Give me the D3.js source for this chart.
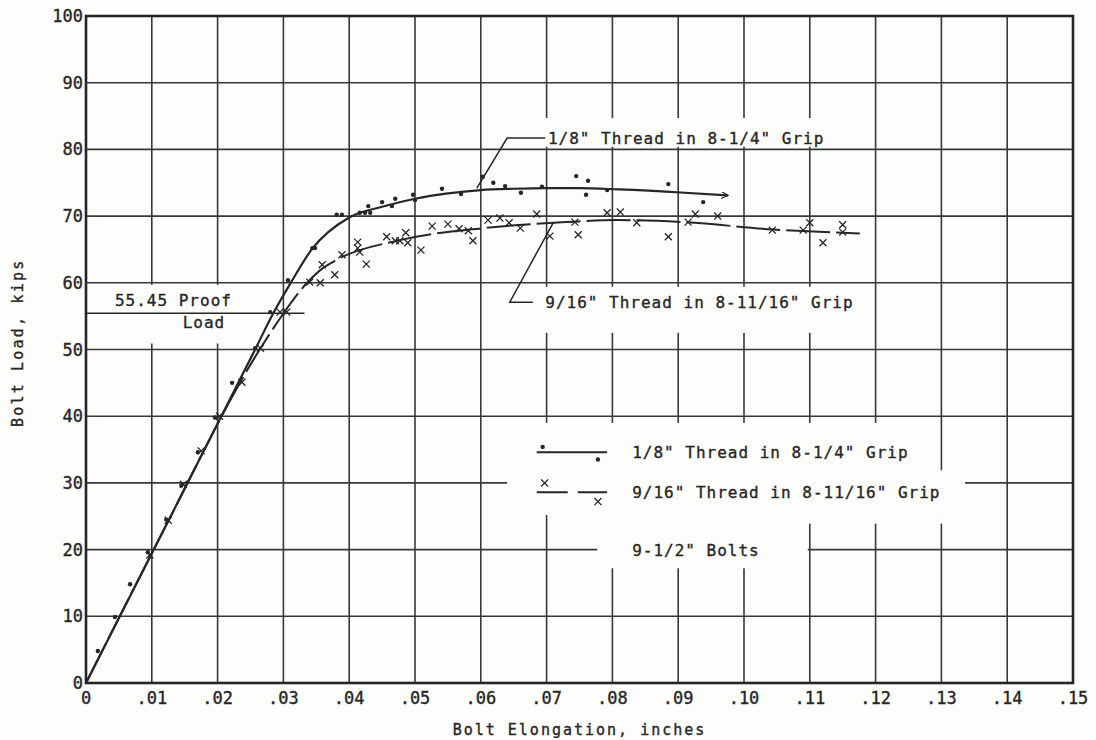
<!DOCTYPE html>
<html>
<head>
<meta charset="utf-8">
<script src="https://cdn.jsdelivr.net/npm/d3@7"></script>
<style>
  body { margin: 0; background: #fdfdfb; }
  svg text { font-family: "DejaVu Sans Mono", monospace; fill: #262626; stroke: #262626; stroke-width: 0.35px; }
</style>
</head>
<body>
<div id="chart"></div>
<script>
// Tick values and labels
const xTicks = [0, .01, .02, .03, .04, .05, .06, .07, .08, .09, .10, .11, .12, .13, .14, .15];
const xTickLabels = ["0", ".01", ".02", ".03", ".04", ".05", ".06", ".07", ".08", ".09", ".10", ".11", ".12", ".13", ".14", ".15"];
const yTicks = [0, 10, 20, 30, 40, 50, 60, 70, 80, 90, 100];

// 1/8" thread in 8-1/4" grip  (solid curve, dots)
const curve1 = [[0, 0], [.0103, 20], [.0257, 50], [.0285, 55.5], [.031, 59.8], [.0343, 65], [.040, 69.8],
  [.045, 71.4], [.050, 72.6], [.055, 73.4], [.060, 73.9], [.065, 74.1], [.070, 74.2], [.075, 74.2],
  [.081, 74.0], [.091, 73.5], [.0975, 73.1]];
const points1 = [[.0018, 4.8], [.0044, 9.9], [.0067, 14.8], [.0094, 19.6], [.0122, 24.5], [.0145, 29.6],
  [.0170, 34.6], [.0196, 39.8], [.0222, 45.0], [.0257, 50.2], [.028, 55.6], [.0307, 60.4],
  [.0344, 65.2], [.0348, 65.2], [.0381, 70.2], [.0389, 70.2], [.0416, 70.5], [.0424, 70.5], [.0432, 70.5],
  [.0429, 71.5], [.045, 72.1], [.0465, 71.5], [.047, 72.6], [.0497, 73.2], [.050, 72.4], [.0541, 74.1],
  [.057, 73.3], [.0603, 75.9], [.0619, 75.0], [.0637, 74.5], [.0661, 73.5], [.0693, 74.4], [.0745, 76.0],
  [.0763, 75.3], [.076, 73.2], [.0792, 73.9], [.0885, 74.8], [.0938, 72.1]];

// 9/16" thread in 8-11/16" grip  (dashed curve, x marks)
const curve2 = [[0, 0], [.0103, 20], [.0264, 50], [.0300, 55.4], [.0336, 60], [.036, 62.2], [.038, 63.4],
  [.0477, 66.4], [.0604, 68.2], [.073, 69.1], [.0807, 69.4], [.0907, 69.1], [.1044, 68.0], [.1176, 67.4]];
const points2 = [[.0097, 19.2], [.0125, 24.4], [.0148, 29.8], [.0175, 34.8], [.0203, 40.0], [.0237, 45.1],
  [.0265, 50.2], [.0295, 55.6], [.0305, 55.6], [.034, 60.1], [.0356, 60.0], [.0359, 62.7], [.0378, 61.2],
  [.0389, 64.2], [.0413, 66.1], [.0413, 65.2], [.0416, 64.6], [.0426, 62.8], [.0457, 66.9], [.047, 66.3],
  [.0477, 66.3], [.0486, 67.5], [.0489, 66.0], [.0509, 64.9], [.0526, 68.5], [.055, 68.8], [.0567, 68.1],
  [.0581, 67.8], [.0588, 66.3], [.0611, 69.4], [.0629, 69.7], [.0643, 69.0], [.066, 68.2], [.0685, 70.3],
  [.0705, 67.0], [.0743, 69.1], [.0748, 67.2], [.0792, 70.5], [.0812, 70.6], [.0837, 69.0], [.0885, 66.9],
  [.0915, 69.1], [.0926, 70.3], [.096, 70.0], [.1043, 67.9], [.109, 67.9], [.110, 69.0], [.112, 66.0],
  [.115, 68.7], [.115, 67.6]];

const proofLoad = 55.45;

const margin = { top: 16, right: 23, bottom: 57, left: 86 },
    width = 1096 - margin.left - margin.right,
    height = 740 - margin.top - margin.bottom;

const ink = "#262626";

const svg = d3.select("#chart")
    .append("svg")
    .attr("width", 1096)
    .attr("height", 740);

const g = svg.append("g").attr("transform", `translate(${margin.left},${margin.top})`);

const x = d3.scaleLinear().domain([0, .15]).range([0, width]);
const y = d3.scaleLinear().domain([0, 100]).range([height, 0]);

// grid
g.append("g").selectAll("line").data(xTicks).join("line")
    .attr("x1", d => x(d)).attr("x2", d => x(d))
    .attr("y1", 0).attr("y2", height)
    .attr("stroke", "#383838").attr("stroke-width", 1.6);
g.append("g").selectAll("line").data(yTicks).join("line")
    .attr("x1", 0).attr("x2", width)
    .attr("y1", d => y(d)).attr("y2", d => y(d))
    .attr("stroke", "#383838").attr("stroke-width", 1.6);

// white-out areas behind labels (x0, x1, y0, y1 in data units)
const blanks = [
  [.0003, .0298, 50.9, 59.7],   // proof load label
  [.063, .1146, 80.4, 84.7],    // upper label
  [.063, .1191, 52.5, 59.4],    // lower label
  [.064, .1298, 25.2, 39.0],    // legend
  [.064, .1336, 25.2, 31.9],
  [.0777, .1097, 17.2, 25.2],
  [.1097, .1336, 23.9, 25.2]
];
g.append("g").selectAll("rect").data(blanks).join("rect")
    .attr("x", d => x(d[0])).attr("width", d => x(d[1]) - x(d[0]))
    .attr("y", d => y(d[3])).attr("height", d => y(d[2]) - y(d[3]))
    .attr("fill", "#fdfdfb");

// frame
g.append("rect")
    .attr("width", width).attr("height", height)
    .attr("fill", "none").attr("stroke", ink).attr("stroke-width", 2.6);

// tick labels
g.append("g").selectAll("text").data(xTicks).join("text")
    .attr("x", d => x(d)).attr("y", height + 15)
    .attr("text-anchor", "middle").attr("dominant-baseline", "central")
    .style("font-size", "17px")
    .text((d, i) => xTickLabels[i]);
g.append("g").selectAll("text").data(yTicks).join("text")
    .attr("x", -3).attr("y", d => y(d))
    .attr("text-anchor", "end").attr("dominant-baseline", "central")
    .style("font-size", "17px")
    .text(d => d);

// axis titles
svg.append("text")
    .attr("x", margin.left + x(.075)).attr("y", 730)
    .attr("text-anchor", "middle").attr("dominant-baseline", "central")
    .style("font-size", "15px").style("letter-spacing", "2px")
    .text("Bolt Elongation, inches");
svg.append("text")
    .attr("transform", `translate(18,${margin.top + y(51)}) rotate(-90)`)
    .attr("text-anchor", "middle").attr("dominant-baseline", "central")
    .style("font-size", "15px").style("letter-spacing", "2.2px")
    .text("Bolt Load, kips");

// proof load line
g.append("line")
    .attr("x1", x(0)).attr("x2", x(.0332))
    .attr("y1", y(proofLoad)).attr("y2", y(proofLoad))
    .attr("stroke", ink).attr("stroke-width", 1.5);

// curves
const line = d3.line().x(d => x(d[0])).y(d => y(d[1])).curve(d3.curveMonotoneX);

svg.append("defs").append("marker")
    .attr("id", "arrow").attr("viewBox", "0 0 10 10")
    .attr("refX", 9).attr("refY", 5)
    .attr("markerWidth", 9).attr("markerHeight", 7)
    .attr("markerUnits", "userSpaceOnUse")
    .attr("orient", "auto")
    .append("path").attr("d", "M0,0L10,5L0,10")
    .attr("fill", "none").attr("stroke", ink).attr("stroke-width", 1.5);

g.append("path").datum(curve1)
    .attr("d", line)
    .attr("fill", "none").attr("stroke", ink).attr("stroke-width", 2.2)
    .attr("marker-end", "url(#arrow)");

g.append("path").datum(curve2)
    .attr("d", line)
    .attr("fill", "none").attr("stroke", ink).attr("stroke-width", 2)
    .attr("stroke-dasharray", "44,6");

// points
g.append("g").selectAll("circle").data(points1).join("circle")
    .attr("cx", d => x(d[0])).attr("cy", d => y(d[1]))
    .attr("r", 2.2).attr("fill", ink);

const xMark = d3.symbol(d3.symbolX, 34);
g.append("g").selectAll("path").data(points2).join("path")
    .attr("transform", d => `translate(${x(d[0])},${y(d[1])})`)
    .attr("d", xMark)
    .attr("fill", "none").attr("stroke", ink).attr("stroke-width", 1.3);

// annotations
const labelStyle = sel => sel.style("font-size", "16px").style("letter-spacing", "1px")
    .attr("dominant-baseline", "central");

g.append("polyline")
    .attr("points", [[.0698, 81.7], [.064, 81.7], [.0594, 74.2]].map(d => [x(d[0]), y(d[1])]).join(" "))
    .attr("fill", "none").attr("stroke", ink).attr("stroke-width", 1.5);
g.append("text").call(labelStyle)
    .attr("x", x(.0702)).attr("y", y(81.6))
    .text('1/8" Thread in 8-1/4" Grip');

g.append("polyline")
    .attr("points", [[.0679, 57.1], [.0644, 57.1], [.071, 69.0]].map(d => [x(d[0]), y(d[1])]).join(" "))
    .attr("fill", "none").attr("stroke", ink).attr("stroke-width", 1.5);
g.append("text").call(labelStyle)
    .attr("x", x(.0698)).attr("y", y(57.1))
    .text('9/16" Thread in 8-11/16" Grip');

g.append("text").call(labelStyle)
    .attr("x", x(.0044)).attr("y", y(57.3))
    .text("55.45 Proof");
g.append("text").call(labelStyle)
    .attr("x", x(.0147)).attr("y", y(54.0))
    .text("Load");

// legend
const lg = g.append("g");
lg.append("line")
    .attr("x1", x(.0685)).attr("x2", x(.0792))
    .attr("y1", y(34.6)).attr("y2", y(34.6))
    .attr("stroke", ink).attr("stroke-width", 2);
lg.selectAll("circle").data([[.0694, 35.4], [.0778, 33.5]]).join("circle")
    .attr("cx", d => x(d[0])).attr("cy", d => y(d[1]))
    .attr("r", 2.2).attr("fill", ink);
lg.append("line")
    .attr("x1", x(.0685)).attr("x2", x(.0792))
    .attr("y1", y(28.6)).attr("y2", y(28.6))
    .attr("stroke", ink).attr("stroke-width", 2)
    .attr("stroke-dasharray", "31,10");
lg.selectAll("path").data([[.0697, 30.0], [.0778, 27.2]]).join("path")
    .attr("transform", d => `translate(${x(d[0])},${y(d[1])})`)
    .attr("d", xMark)
    .attr("fill", "none").attr("stroke", ink).attr("stroke-width", 1.3);

const legendText = ['1/8" Thread in 8-1/4" Grip', '9/16" Thread in 8-11/16" Grip', '9-1/2" Bolts'];
const legendY = [34.6, 28.5, 19.9];
lg.selectAll("text").data(legendText).join("text").call(labelStyle)
    .attr("x", x(.083)).attr("y", (d, i) => y(legendY[i]))
    .text(d => d);
</script>
</body>
</html>
